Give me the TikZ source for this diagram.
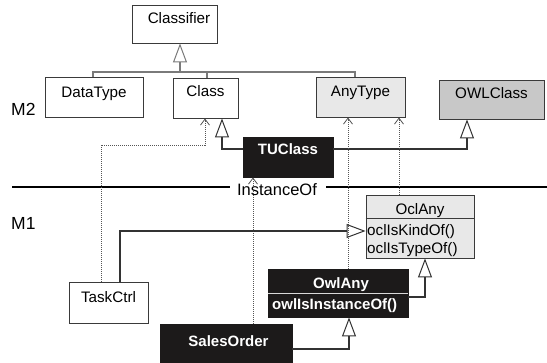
\documentclass[tikz,border=0pt]{standalone}
\usepackage{fontspec}
\setmainfont{Liberation Sans}
\usetikzlibrary{arrows.meta}
\definecolor{boxc}{HTML}{3A3A3A}
\definecolor{blk}{HTML}{1C1A1A}
\definecolor{lgray}{HTML}{E8E8E8}
\definecolor{mgray}{HTML}{C8C8C8}
\definecolor{busc}{HTML}{7A7A7A}
\definecolor{conc}{HTML}{333333}
\definecolor{dotc}{HTML}{555555}
\tikzset{
  gen/.tip={Triangle[open,length=19pt,width=14pt,line width=1pt]},
  dtip/.tip={Straight Barb[length=6pt,width=9pt,line width=0.8pt]},
  cbox/.style={draw=boxc,line width=0.9pt,inner sep=0pt,text height=10pt,text depth=0pt,
    font=\fontsize{15.2}{18}\selectfont},
  bbox/.style={cbox,fill=blk,draw=blk,text=white,font=\fontsize{15}{18}\selectfont\bfseries},
  bus/.style={draw=busc,line width=1.2pt},
  conn/.style={draw=conc,line width=1.1pt},
  dep/.style={draw=dotc,line width=0.9pt,dash pattern=on 0.9pt off 1.1pt},
  txt/.style={inner sep=0pt,font=\fontsize{15.2}{18}\selectfont},
  btxt/.style={inner sep=0pt,text=white,font=\fontsize{15}{18}\selectfont\bfseries},
  big/.style={inner sep=0pt,font=\fontsize{17.5}{20}\selectfont}
}
\begin{document}
\begin{tikzpicture}[x=1pt,y=-1pt]
\useasboundingbox[fill=white] (0,0) rectangle (547,362);

% M2 boxes
\node[cbox,minimum width=85pt,minimum height=38pt] (clsf) at (175,24) {\raisebox{6pt}{\hspace*{8pt}Classifier}};
\node[cbox,minimum width=98pt,minimum height=40pt] (dt) at (94,97) {\raisebox{5pt}{DataType}};
\node[cbox,minimum width=65pt,minimum height=40pt] (cls) at (205.5,98) {\raisebox{6.5pt}{Class}};
\node[cbox,fill=lgray,minimum width=89pt,minimum height=40pt] (anyt) at (360.5,97) {\raisebox{5.5pt}{AnyType}};
\node[cbox,fill=mgray,minimum width=105pt,minimum height=39pt] (owl) at (491.5,99.5) {\raisebox{6.5pt}{OWLClass}};
\node[bbox,minimum width=90pt,minimum height=40pt] (tuc) at (288,157) {\raisebox{8pt}{TUClass}};

% M1 boxes
\node[cbox,minimum width=79pt,minimum height=41pt] (task) at (108.5,302.5) {\raisebox{5.5pt}{TaskCtrl}};
\node[cbox,fill=lgray,minimum width=108pt,minimum height=63pt] (ocl) at (420,226.5) {};
\node[bbox,minimum width=140pt,minimum height=48pt] (owla) at (338,293) {};
\node[bbox,minimum width=132pt,minimum height=39pt] (so) at (226,343.5) {\raisebox{2pt}{\hspace*{5pt}SalesOrder}};

% compartments
\coordinate (ocd) at (0,218);
\draw[draw=boxc,line width=0.9pt] (ocl.west |- ocd) -- (ocl.east |- ocd);
\coordinate (owd) at (0,293);
\draw[draw=white!85!black,line width=0.9pt] (owla.west |- owd) -- (owla.east |- owd);
\node[txt,anchor=base] (ocl-h) at (420,214) {OclAny};
\node[txt,anchor=base west] (ocl-a) at (367,235) {oclIsKindOf()};
\node[txt,anchor=base west] (ocl-b) at (367,253) {oclIsTypeOf()};
\node[btxt,anchor=base] (owla-h) at (341,288) {OwlAny};
\node[btxt,anchor=base west] (owla-a) at (272,309) {owlIsInstanceOf()};

% labels
\node[big,anchor=base west] (m2) at (11,115) {M2};
\node[big,anchor=base west] (m1) at (11,229) {M1};
\node[inner sep=0pt,anchor=base,font=\fontsize{16.5}{19}\selectfont] (inst) at (277,195.5) {InstanceOf};
\coordinate (hl) at (12,187);
\coordinate (hr) at (547,187);
\draw[line width=1.2pt] (hl) -- ([xshift=-7pt]hl -| inst.west);
\draw[line width=1.2pt] ([xshift=9pt]hr -| inst.east) -- (hr);

% Classifier generalization bus
\coordinate (b1) at (93,72);
\coordinate (b2) at (180,72);
\coordinate (b3) at (207,72);
\coordinate (b4) at (355,72);
\draw[bus] (b1 |- dt.north) -- (b1) -- (b4) -- (b4 |- anyt.north);
\draw[bus] (b3) -- (b3 |- cls.north);
\draw[bus,-{gen}] (b2) -- (b2 |- clsf.south);

% TUClass generalizations
\coordinate (t1) at (222,149);
\coordinate (t2) at (467,149);
\draw[conn,-{gen}] (tuc.west |- t1) -- (t1) -- (t1 |- cls.south);
\draw[conn,-{gen}] (tuc.east |- t2) -- (t2) -- (t2 |- owl.south);

% dependencies (dotted)
\coordinate (d1) at (101,145);
\coordinate (d2) at (205,145);
\coordinate (d3) at (253,0);
\coordinate (d4) at (348,0);
\coordinate (d5) at (399,0);
\draw[dep,-{dtip}] (d1 |- task.north) -- (d1) -- (d2) -- (d2 |- cls.south);
\draw[dep,-{dtip}] (d3 |- so.north) -- (d3 |- tuc.south);
\draw[dep,-{dtip}] (d4 |- owla.north) -- (d4 |- anyt.south);
\draw[dep,-{dtip}] (d5 |- ocl.north) -- (d5 |- anyt.south);

% M1 generalizations
\coordinate (g1) at (120,231);
\coordinate (g2) at (425,297);
\coordinate (g3) at (349,349);
\draw[conn,-{gen}] (g1 |- task.north) -- (g1) -- (g1 -| ocl.west);
\draw[conn,-{gen}] (owla.east |- g2) -- (g2) -- (g2 |- ocl.south);
\draw[conn,-{gen}] (so.east |- g3) -- (g3) -- (g3 |- owla.south);
\end{tikzpicture}
\end{document}
